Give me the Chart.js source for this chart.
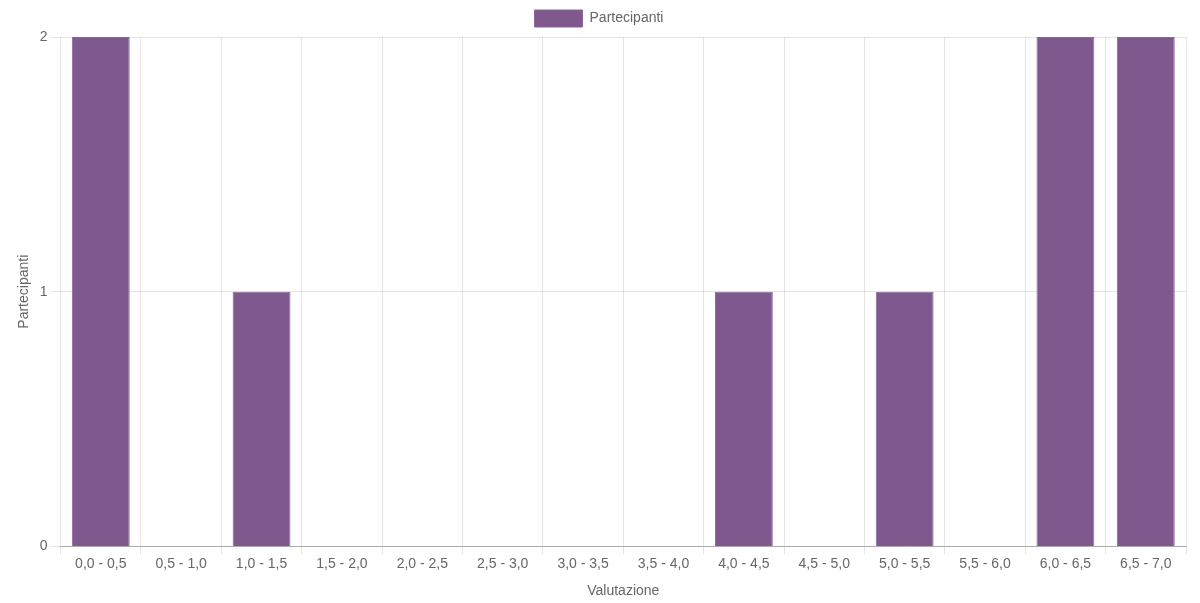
<!DOCTYPE html>
<html>
<head>
<meta charset="utf-8">
<script src="https://cdn.jsdelivr.net/npm/chart.js@4/dist/chart.umd.min.js"></script>
<style>
  html, body { margin: 0; padding: 0; background: #fff; }
  #wrap { width: 1200px; height: 603px; }
</style>
</head>
<body>
<div id="wrap"><canvas id="grafico"></canvas></div>
<script>
// fasce di valutazione
const fasce = ["0,0 - 0,5", "0,5 - 1,0", "1,0 - 1,5", "1,5 - 2,0", "2,0 - 2,5", "2,5 - 3,0", "3,0 - 3,5",
               "3,5 - 4,0", "4,0 - 4,5", "4,5 - 5,0", "5,0 - 5,5", "5,5 - 6,0", "6,0 - 6,5", "6,5 - 7,0"];
// numero di partecipanti per fascia
const partecipanti = [2, 0, 1, 0, 0, 0, 0, 0, 1, 0, 1, 0, 2, 2];

Chart.defaults.font.family = "'Liberation Sans', Arial, Helvetica, sans-serif";
Chart.defaults.font.size = 14;
Chart.defaults.color = "#666";

new Chart("grafico", {
  type: "bar",
  data: {
    labels: fasce,
    datasets: [{
      label: "Partecipanti",
      data: partecipanti,
      backgroundColor: "rgb(127, 88, 141)",
      borderColor: "rgb(140, 100, 155)",
      borderWidth: 1
    }]
  },
  options: {
    responsive: true,
    maintainAspectRatio: false,
    animation: false,
    layout: { padding: { left: 12, right: 14, top: 2 } },
    plugins: {
      legend: {
        labels: { boxWidth: 48, boxHeight: 17, padding: 8 }
      },
      tooltip: { enabled: false }
    },
    scales: {
      x: {
        title: { display: true, text: "Valutazione", padding: { top: 10, bottom: 3 } },
        ticks: { padding: 1 },
        grid: { color: "rgba(0,0,0,0.1)", tickLength: 8 },
        border: { color: "rgba(0,0,0,0.25)" }
      },
      y: {
        beginAtZero: true,
        max: 2,
        ticks: { stepSize: 1 },
        title: { display: true, text: "Partecipanti" },
        grid: { color: "rgba(0,0,0,0.1)", tickLength: 10 },
        border: { display: false }
      }
    }
  }
});
</script>
</body>
</html>
